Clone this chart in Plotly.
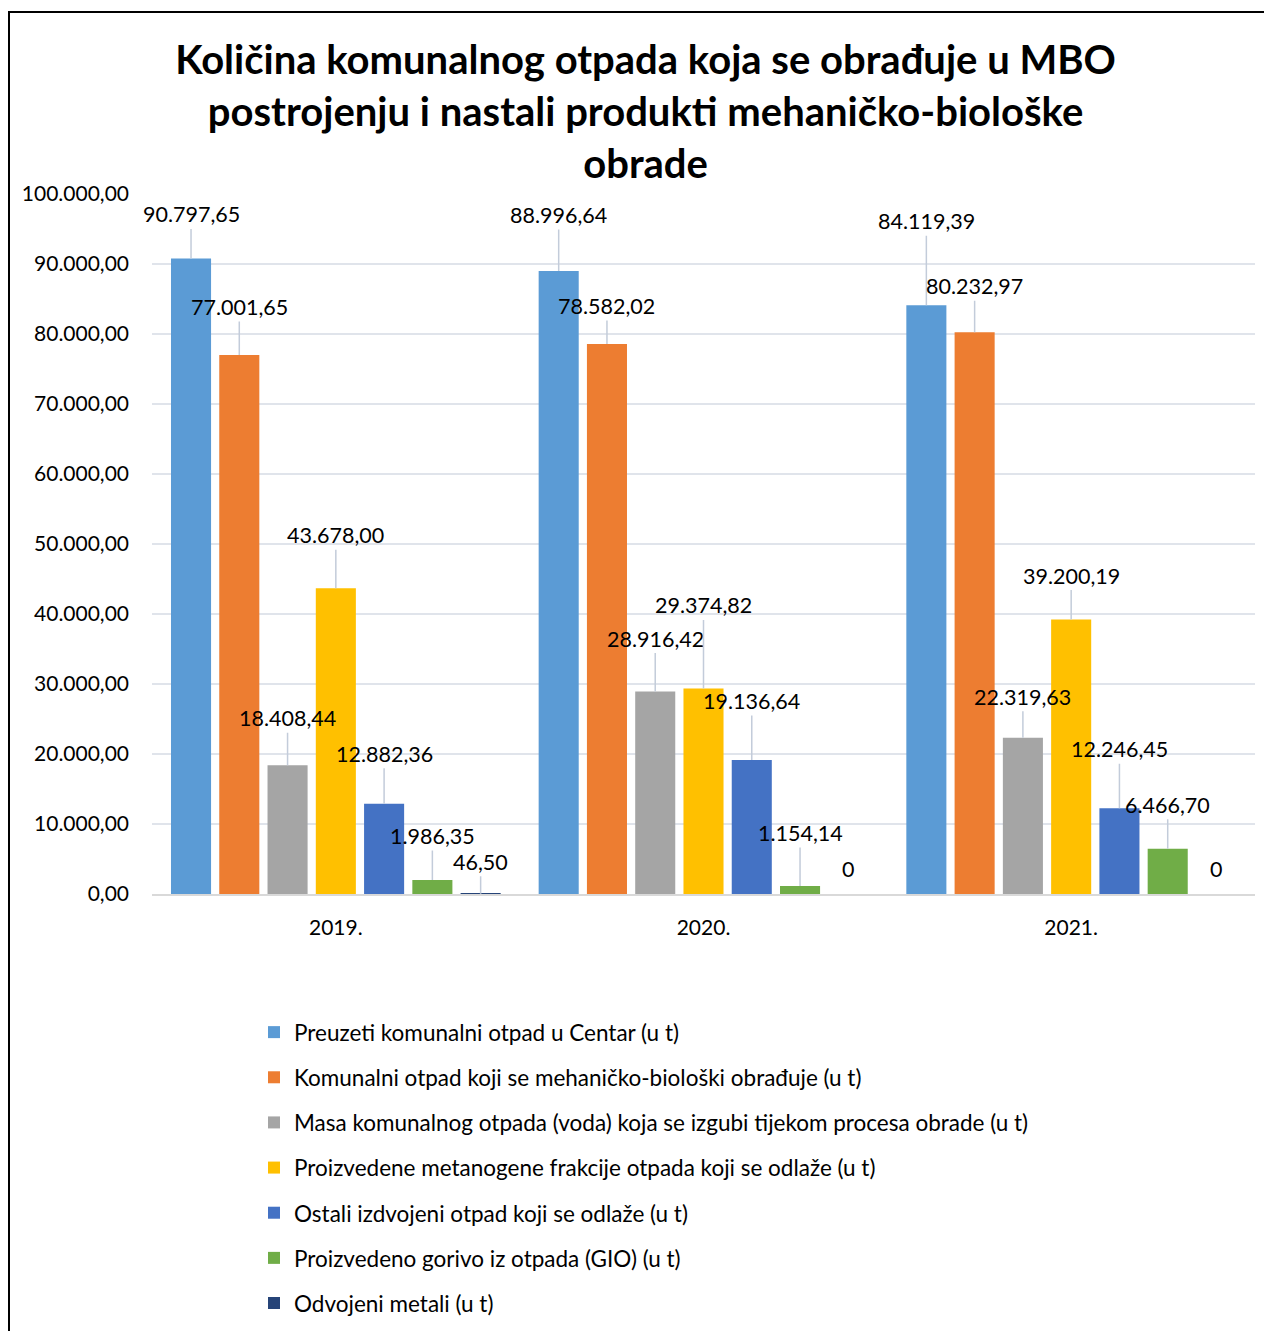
import plotly.graph_objects as go

# ---- data ----
years = ["2019.", "2020.", "2021."]
series_names = [
    "Preuzeti komunalni otpad u Centar (u t)",
    "Komunalni otpad koji se mehaničko-biološki obrađuje (u t)",
    "Masa komunalnog otpada (voda) koja se izgubi tijekom procesa obrade (u t)",
    "Proizvedene metanogene frakcije otpada koji se odlaže (u t)",
    "Ostali izdvojeni otpad koji se odlaže (u t)",
    "Proizvedeno gorivo iz otpada (GIO) (u t)",
    "Odvojeni metali (u t)",
]
preuzeti = [90797.65, 88996.64, 84119.39]
mbo = [77001.65, 78582.02, 80232.97]
voda = [18408.44, 28916.42, 22319.63]
metanogene = [43678.00, 29374.82, 39200.19]
ostali = [12882.36, 19136.64, 12246.45]
gio = [1986.35, 1154.14, 6466.70]
metali = [46.50, 0, 0]
y_ticks = [0, 10000, 20000, 30000, 40000, 50000, 60000, 70000, 80000, 90000, 100000]

values = [preuzeti, mbo, voda, metanogene, ostali, gio, metali]

# ---- styles ----
colors = ["#5B9BD5", "#ED7D31", "#A5A5A5", "#FFC000", "#4472C4", "#70AD47", "#264478"]
# label offsets (pixels above bar top), per series per year
label_offsets = [
    [-44, -56, -84],
    [-48, -38, -46],
    [-47, -53, -41],
    [-53, -83, -44],
    [-50, -59, -59],
    [-44, -53, -44],
    [-32, -25, -25],
]
FONT = "Lato, 'Open Sans', sans-serif"
BARGAP = 0.081
n = len(values)

def fmt(v):
    if v == 0:
        return "0"
    s = f"{v:,.2f}"
    return s.replace(",", "X").replace(".", ",").replace("X", ".")

fig = go.Figure()
for k, (name, vals) in enumerate(zip(series_names, values)):
    fig.add_trace(go.Bar(
        x=years, y=vals, name=name,
        marker=dict(color=colors[k], line=dict(width=0)),
        legendgroup=f"g{k}",
    ))

annotations = []
slot = (1 - BARGAP) / n
for k, vals in enumerate(values):
    for i, v in enumerate(vals):
        xpos = i + (k - (n - 1) / 2) * slot
        annotations.append(dict(
            x=xpos, y=v, xref="x", yref="y",
            text=fmt(v),
            showarrow=True,
            arrowhead=0, arrowwidth=1.5,
            arrowcolor="#C3CCDA" if v > 0 else "rgba(0,0,0,0)",
            ax=0, ay=label_offsets[k][i],
            standoff=0,
            font=dict(family=FONT, size=21.5, color="#000000"),
        ))

# figure geometry (page body adds an 8px offset)
W, H = 1264, 1323
L, R, T, B = 144, 17, 186, 437
pw, ph = W - L - R, H - T - B
def px_x(p):
    return (p - L) / pw
def px_y(p):
    return (H - B - p) / ph

fig.update_layout(
    width=W, height=H,
    margin=dict(l=L, r=R, t=T, b=B, autoexpand=False),
    paper_bgcolor="white", plot_bgcolor="white",
    separators=",.",
    barmode="group", bargap=BARGAP, bargroupgap=0.17,
    title=dict(
        text="Količina komunalnog otpada koja se obrađuje u MBO<br>postrojenju i nastali produkti mehaničko-biološke<br>obrade",
        x=0.5044, xanchor="center", y=0.950, yanchor="top",
        font=dict(family=FONT, size=40, color="#000000", weight="bold"),
    ),
    font=dict(family=FONT, size=21, color="#000000"),
    xaxis=dict(
        range=[-0.5, 2.5], automargin=False,
        showgrid=False, showline=True, linecolor="#D9D9D9", linewidth=2,
        ticks="", ticklabelstandoff=14,
        tickfont=dict(family=FONT, size=21, color="#000000"),
    ),
    yaxis=dict(
        range=[0, 100000], tickvals=y_ticks, tickformat=",.2f", automargin=False,
        showgrid=True, gridcolor="#E0E4EB", gridwidth=2,
        zeroline=False, showline=False, ticks="", ticklabelstandoff=22,
        tickfont=dict(family=FONT, size=21, color="#000000"),
    ),
    legend=dict(
        orientation="v", x=px_x(246), xanchor="left", y=px_y(1003), yanchor="top",
        font=dict(family=FONT, size=22.5, color="#000000"),
        tracegroupgap=12.9, itemwidth=30,
        bgcolor="rgba(0,0,0,0)",
    ),
    annotations=annotations,
    shapes=[dict(
        type="rect", xref="paper", yref="paper",
        x0=px_x(1), x1=px_x(1285), y0=px_y(1345), y1=px_y(4),
        line=dict(color="#000000", width=2), fillcolor="rgba(0,0,0,0)", layer="below",
    )],
)

fig.write_html("out.html")
